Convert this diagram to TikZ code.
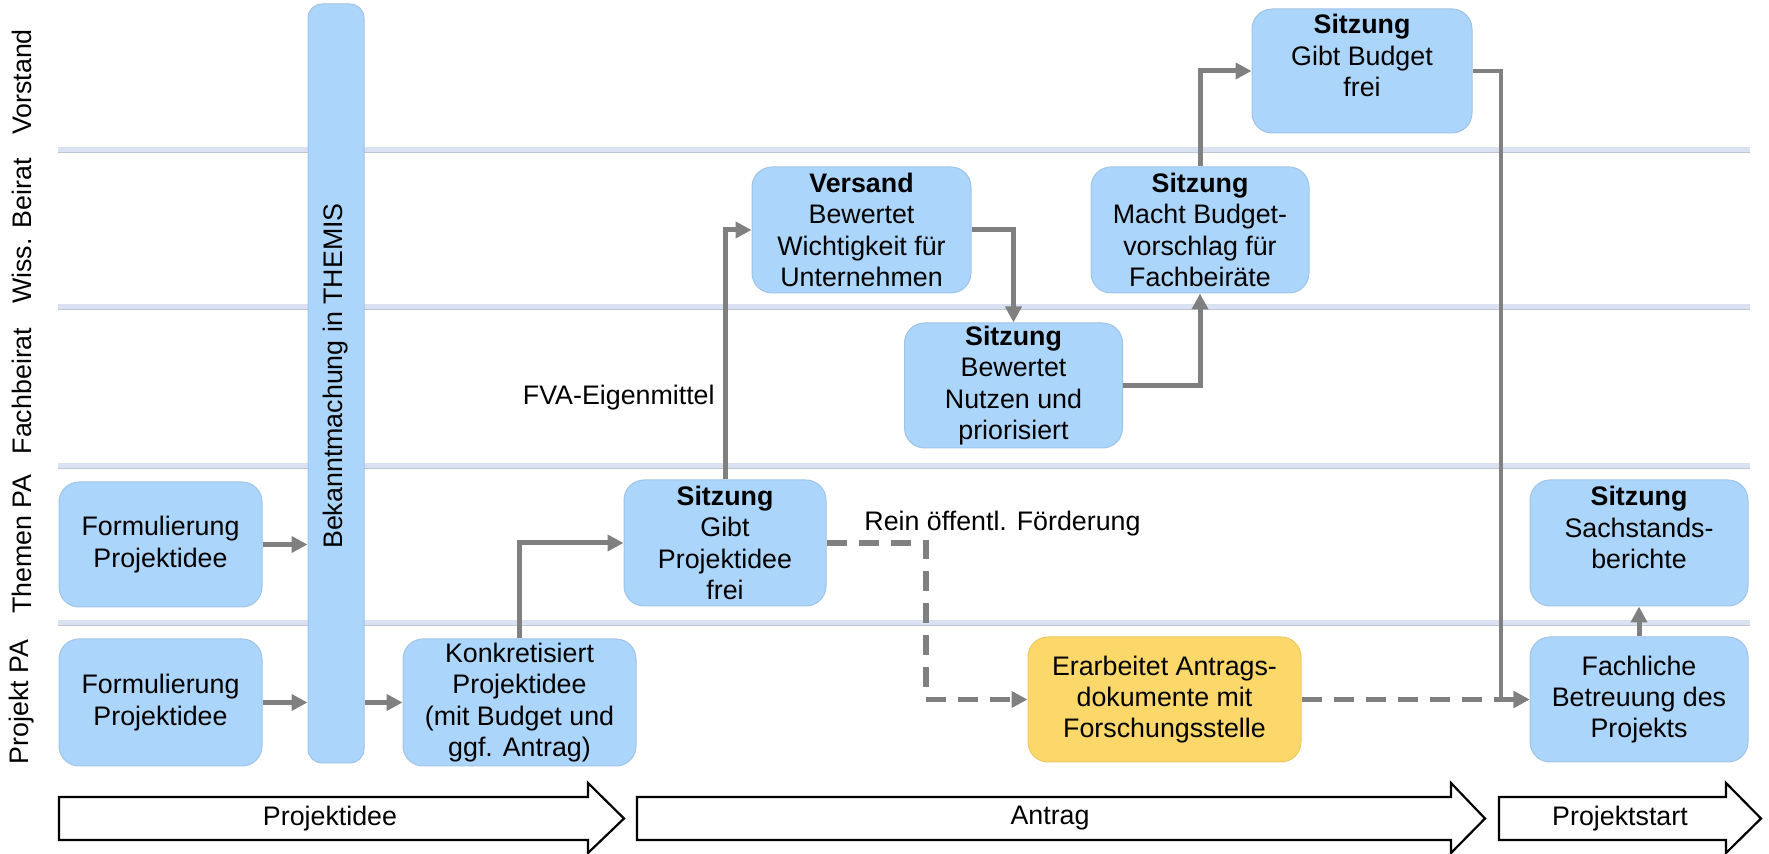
\documentclass[tikz,border=0pt]{standalone}
\usepackage{fontspec}
\setmainfont{Liberation Sans}
\usetikzlibrary{arrows.meta}
\definecolor{boxblue}{RGB}{172,213,252}
\definecolor{boxedge}{RGB}{160,195,232}
\definecolor{boxyellow}{RGB}{252,216,106}
\definecolor{yedge}{RGB}{238,200,95}
\definecolor{conngray}{RGB}{128,128,128}
\definecolor{lanecol}{RGB}{218,225,240}
\definecolor{laneedge}{RGB}{190,198,214}
\tikzset{
  txt/.style={font=\fontsize{13.4}{15.6}\selectfont, align=center},
  box/.style={txt, rectangle, rounded corners=10pt, fill=boxblue, draw=boxedge, line width=0.5pt, inner sep=0pt},
  ybox/.style={box, fill=boxyellow, draw=yedge},
  conn/.style={draw=conngray, line width=2.5pt, -{Triangle[length=8pt,width=8pt]}},
  dconn/.style={draw=conngray, line width=2.8pt, dash pattern=on 10pt off 6pt, -{Triangle[length=8pt,width=8pt]}},
  laneline/.style={draw=lanecol, line width=2.6pt},
  laneedgeline/.style={draw=laneedge, line width=0.5pt},
  lanelabel/.style={txt, rotate=90},
  phase/.style={draw=black, fill=white, line width=1.1pt, line join=miter},
  plabel/.style={txt}
}
\begin{document}
\begin{tikzpicture}[x=0.5pt,y=-0.5pt]
\useasboundingbox (0,0) rectangle (1769,854);
% lane separators
\foreach \yy in {150,307,466,623}{
  \draw[laneline] (58,\yy) -- (1750,\yy);
  \draw[laneedgeline] (58,\yy+2.6) -- (1750,\yy+2.6);
}
% lane labels
\node[lanelabel] (lv) at (22,82) {Vorstand};
\node[lanelabel] (lw) at (22,231) {Wiss. Beirat};
\node[lanelabel] (lf) at (22,391) {Fachbeirat};
\node[lanelabel] (lt) at (22,544) {Themen PA};
\node[lanelabel] (lp) at (22,702) {Projekt PA};
% boxes
\node[box, minimum width=101.5pt, minimum height=62.5pt] (ftp) at (160.5,544.5) {Formulierung\\Projektidee};
\node[box, minimum width=101.5pt, minimum height=63.5pt] (fpp) at (160.5,702.5) {Formulierung\\Projektidee};
\node[box, rounded corners=7pt, minimum width=28pt, minimum height=379.5pt] (themis) at (336,383.5) {};
\node[lanelabel] (themistxt) at (336,376) {Bekanntmachung in THEMIS};
\node[box, minimum width=116.5pt, minimum height=63.5pt] (konk) at (519.5,702.5) {Konkretisiert\\Projektidee\\(mit Budget und\\ggf. Antrag)};
\node[box, minimum width=101pt, minimum height=63pt] (sitz1) at (725,543) {\textbf{Sitzung}\\Gibt\\Projektidee\\frei};
\node[box, minimum width=109.5pt, minimum height=63pt] (versand) at (861.5,230) {\textbf{Versand}\\Bewertet\\Wichtigkeit für\\Unternehmen};
\node[box, minimum width=109pt, minimum height=62.5pt] (fach) at (1013.5,385.5) {\textbf{Sitzung}\\Bewertet\\Nutzen und\\priorisiert};
\node[box, minimum width=109pt, minimum height=63pt] (macht) at (1200,230) {\textbf{Sitzung}\\Macht Budget-\\vorschlag für\\Fachbeiräte};
\node[box, minimum width=110pt, minimum height=62pt] (vorst) at (1362,71) {\textbf{Sitzung}\\Gibt Budget\\frei\\\mbox{}};
\node[ybox, minimum width=136.5pt, minimum height=62.5pt] (erarb) at (1164.5,699.5) {Erarbeitet Antrags-\\dokumente mit\\Forschungsstelle};
\node[box, minimum width=109pt, minimum height=62.5pt] (fachl) at (1639,699.5) {Fachliche\\Betreuung des\\Projekts};
\node[box, minimum width=109pt, minimum height=63pt] (sach) at (1639,543) {\textbf{Sitzung}\\Sachstands-\\berichte\\\mbox{}};
% labels
\node[txt, anchor=east, inner sep=0pt] (fva) at (715,398) {FVA-Eigenmittel};
\node[txt, anchor=west, inner sep=0pt] (rein) at (864,524) {Rein öffentl. Förderung};
% connectors
\draw[conn] (ftp.east) -- (ftp.east -| themis.west);
\draw[conn] (fpp.east) -- (fpp.east -| themis.west);
\draw[conn] (themis.east |- konk.west) -- (konk.west);
\draw[conn] (konk.north) |- (sitz1.west);
\draw[conn] (sitz1.north) |- (versand.west);
\draw[conn] (versand.east) -| (fach.north);
\draw[conn] (fach.east) -| (macht.south);
\draw[conn] (macht.north) |- (vorst.west);
\coordinate (drop) at (1501,699.5);
\draw[conn, line width=2.2pt] (vorst.east) -| (drop) -- (fachl.west);
\coordinate (dsplit) at (926,543);
\draw[dconn] (sitz1.east) -- (dsplit) |- (erarb.west);
\draw[dconn] (erarb.east) -- (fachl.west);
\draw[conn] (fachl.north) -- (sach.south);
% phase arrows
\draw[phase] (59,797) -- (588,797) -- (588,783) -- (624,818.5) -- (588,853) -- (588,840) -- (59,840) -- cycle;
\node[plabel] (p1) at (330,818.5) {Projektidee};
\draw[phase] (637,797) -- (1451,797) -- (1451,783) -- (1485,818.5) -- (1451,853) -- (1451,840) -- (637,840) -- cycle;
\node[plabel] (p2) at (1050,818.5) {Antrag};
\draw[phase] (1499,797) -- (1726,797) -- (1726,783) -- (1761,818.5) -- (1726,853) -- (1726,840) -- (1499,840) -- cycle;
\node[plabel] (p3) at (1620,818.5) {Projektstart};
\end{tikzpicture}
\end{document}
